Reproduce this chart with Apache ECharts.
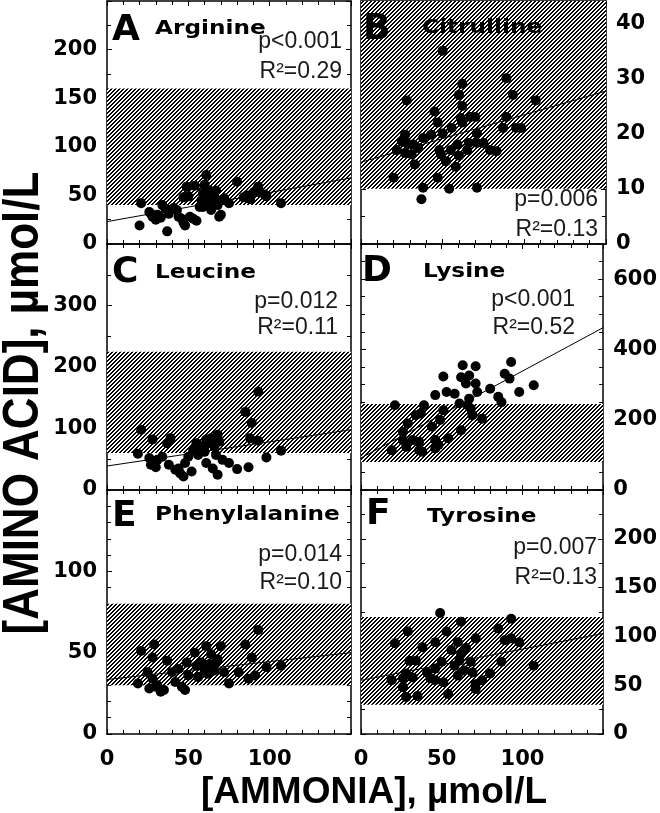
<!DOCTYPE html>
<html><head><meta charset="utf-8">
<script src="https://cdn.jsdelivr.net/npm/echarts@6/dist/echarts.min.js"></script>
<style>html,body{margin:0;padding:0;background:#fff}#c{width:660px;height:813px}</style>
</head><body><div id="c"></div>
<script>
// ---------------- data ----------------
const panelLetters = ['A','B','C','D','E','F'];
const panelNames = ['Arginine','Citrulline','Leucine','Lysine','Phenylalanine','Tyrosine'];
const pValues = ['p<0.001','p=0.006','p=0.012','p<0.001','p=0.014','p=0.007'];
const r2Values = ['R\u00B2=0.29','R\u00B2=0.13','R\u00B2=0.11','R\u00B2=0.52','R\u00B2=0.10','R\u00B2=0.13'];
const xTickLabels = [0,50,100];
const xMax = 150;
const yMaxes = [250,44,400,700,150,250];
const yLabelSteps = [50,10,100,200,50,50];
const yTickSteps = [25,5,50,50,10,25];
const refRanges = [[40,160],[10,44],[60,225],[80,245],[30,80],[30,120]];
const fitLines = [
  [[0,23],[150,68]],
  [[0,14.8],[150,27.7]],
  [[0,39],[150,98]],
  [[0,91],[150,462]],
  [[0,33.5],[150,50]],
  [[0,55],[150,103]]
];
const arginine = [[20,19],[21,42],[26,33],[27,31],[28,28],[30,25],[31,30],[33,27],[34,40],[36,36],[37,13],[38,31],[39,35],[41,37],[43,35],[44,28],[46,26],[47,22],[48,19],[47,48],[49,59],[50,49],[51,28],[53,26],[54,60],[55,24],[57,38],[58,45],[59,38],[59,52],[60,61],[61,71],[62,50],[62,42],[63,45],[63,55],[64,35],[65,52],[66,48],[67,55],[68,45],[68,40],[69,28],[70,30],[71,45],[72,47],[75,42],[80,64],[84,48],[86,50],[88,46],[90,53],[92,56],[93,59],[94,53],[97,51],[98,49],[107,42]];
const citrulline = [[20,12],[22,17],[25,18.6],[27,16.5],[27,19.8],[28,18.3],[28,26],[31,16.2],[32,18],[33,14.4],[35,17.4],[37,8.1],[38,10.2],[38,19.2],[43,19.8],[45,24],[47,22],[47,12],[48,17],[49,16.2],[50,35],[50,20],[52,15],[54,10],[55,17],[55.5,21],[58,14],[59,18],[60,16],[60,27],[61,22.8],[62,29],[62,25],[62,22],[65,17],[66,18.3],[67,23],[70,23],[71,20],[71,18.3],[71,10.2],[75,18.3],[79,17],[83,16.8],[87,21],[89,23],[89,30],[93,27],[95,21],[98,21],[107,26]];
const leucine = [[19,59],[21,98],[26,52],[27,41],[28,82],[30,37],[31,49],[34,54],[37,76],[38,41],[39,84],[42,33],[44,35],[45,27],[47,22],[48,44],[50,54],[52,30],[53,65],[55,76],[56,57],[58,71],[60,62],[61,82],[61,44],[62,76],[64,84],[65,35],[66,71],[67,57],[68,90],[68,25],[69,79],[71,49],[75,44],[80,34],[85,127],[87,37],[88,84],[89,109],[93,160],[93,80],[98,53],[107,64]];
const lysine = [[19,113],[21,241],[26,165],[26,142],[28,123],[29,189],[32,142],[34,213],[36,137],[36,113],[37,218],[38,109],[39,241],[44,180],[46,142],[46,118],[46,270],[48,128],[49,199],[51,227],[51,323],[53,279],[54,147],[58,274],[61,246],[62,170],[62,321],[63,355],[65,303],[66,241],[67,326],[67,260],[68,232],[69,213],[71,352],[71,303],[72,279],[75,203],[80,288],[85,265],[87,250],[89,331],[92,317],[93,364],[98,279],[107,298]];
const phenylalanine = [[19,31],[21,51],[25,38],[26,28],[28,34],[28,47],[29,55],[30,29],[31,30],[33,26],[35,27],[37,45],[40,38],[42,32],[44,40],[46,29],[48,27],[49,44],[50,36],[54,50],[55,42],[56,35],[58,44],[60,39],[61,54],[62,37],[63,43],[64,49],[65,40],[66,39],[67,44],[68,46],[70,54],[72,38],[75,31],[81,38],[85,55],[87,34],[89,47],[91,36],[93,64],[98,41],[107,42]];
const tyrosine = [[19,55],[21,93],[26,48],[26,57],[28,62],[28,38],[29,105],[30,75],[32,58],[34,75],[35,39],[38,89],[41,63],[43,57],[46,94],[46,67],[46,55],[49,124],[50,74],[51,53],[53,105],[54,41],[56,86],[58,70],[60,94],[60,60],[61,75],[62,82],[62,115],[64,65],[65,88],[68,74],[69,63],[71,98],[71,51],[71,46],[75,55],[80,62],[85,108],[87,74],[89,96],[93,98],[93,118],[98,94],[107,70]];
const panelPoints = [arginine,citrulline,leucine,lysine,phenylalanine,tyrosine];

// ---------------- layout ----------------
const grids = [
  {left:107, top:1,   width:244, height:243},
  {left:361, top:1,   width:245, height:243},
  {left:107, top:244, width:244, height:246},
  {left:361, top:244, width:245, height:246},
  {left:107, top:490, width:244, height:244},
  {left:361, top:490, width:245, height:244}
];
const letterPos = [[112,31],[363,30],[112,273],[362,272],[112,517],[366,515]];
const namePos = [[155,29],[422,28],[155,273],[423,272],[155,515],[427,517]];
const pPos = [[342,42,72],[598,200,230],[338,302,328],[575,300,328],[342,555,583],[597,548,578]];

function hatch(){
  const c=document.createElement('canvas'); c.width=4; c.height=4;
  const g=c.getContext('2d');
  g.fillStyle='#fff'; g.fillRect(0,0,4,4);
  g.fillStyle='#000';
  for(let i=0;i<4;i++){ g.fillRect((3-i+4)%4,i,1,1); g.fillRect((4-i+4)%4,i,1,1); }
  return c;
}
const pat = {image: hatch(), repeat:'repeat'};

const lblFont = {fontFamily:'DejaVu Sans', fontWeight:'bold', fontSize:21, color:'#000'};
const tickStyle = {color:'#000', width:1};
const xAxes=[], yAxes=[], series=[], graphic=[];
grids.forEach((g,i)=>{
  const rightCol = i%2===1;
  const bottomRow = i>=4;
  const common = {
    axisLine:{show:true, onZero:false, lineStyle:{color:'#000', width:1.5}},
    splitLine:{show:false}
  };
  xAxes.push(Object.assign({}, common, {
    type:'value', gridIndex:i, min:0, max:xMax, interval:50, position:'bottom',
    axisTick:{show:true, inside:true, length:5, lineStyle:tickStyle},
    minorTick:{show:true, splitNumber:5, length:4, lineStyle:tickStyle},
    axisLabel:Object.assign({show:bottomRow, margin:15, showMaxLabel:false,
      formatter:v=> xTickLabels.indexOf(v)>=0 ? String(v) : ''}, lblFont)
  }));
  xAxes.push(Object.assign({}, common, {
    type:'value', gridIndex:i, min:0, max:xMax, interval:50, position:'top',
    axisTick:{show:true, inside:true, length:5, lineStyle:tickStyle},
    minorTick:{show:true, splitNumber:5, length:4, lineStyle:tickStyle},
    axisLabel:{show:false}
  }));
  const ySplit = yLabelSteps[i]/yTickSteps[i];
  yAxes.push(Object.assign({}, common, {
    type:'value', gridIndex:i, min:0, max:yMaxes[i], interval:yLabelSteps[i],
    position: rightCol ? 'right' : 'left',
    axisTick:{show:true, inside:true, length:5, lineStyle:tickStyle},
    minorTick:{show:true, splitNumber:ySplit, length:4, lineStyle:tickStyle},
    axisLabel:Object.assign({show:true, margin:10, showMaxLabel:false}, lblFont)
  }));
  yAxes.push(Object.assign({}, common, {
    type:'value', gridIndex:i, min:0, max:yMaxes[i], interval:yLabelSteps[i],
    position: rightCol ? 'left' : 'right',
    axisTick:{show:true, inside:true, length:5, lineStyle:tickStyle},
    minorTick:{show:true, splitNumber:ySplit, length:4, lineStyle:tickStyle},
    axisLabel:{show:false}
  }));
  const xi = i*2, yi = i*2;
  series.push({
    type:'line', xAxisIndex:xi, yAxisIndex:yi, data:[], z:1, silent:true,
    markArea:{silent:true, itemStyle:{color:pat, opacity:1},
      data:[[{yAxis:refRanges[i][0]},{yAxis:refRanges[i][1]}]]}
  });
  series.push({
    type:'line', xAxisIndex:xi, yAxisIndex:yi, data:fitLines[i], z:2, silent:true,
    symbol:'none', lineStyle:{color:'#000', width:1}
  });
  series.push({
    type:'scatter', xAxisIndex:xi, yAxisIndex:yi, data:panelPoints[i], z:3,
    symbol:'circle', symbolSize:10, itemStyle:{color:'#000', opacity:1}
  });
  graphic.push({type:'text', x:letterPos[i][0], y:letterPos[i][1], z:10,
    style:{text:panelLetters[i], fill:'#000', font:'bold 36px "DejaVu Sans"', textAlign:'left', textVerticalAlign:'middle'}});
  graphic.push({type:'text', x:namePos[i][0], y:namePos[i][1], z:10, scaleX:1.16,
    style:{text:panelNames[i], fill:'#000', font:'bold 20px "DejaVu Sans"', textAlign:'left', textVerticalAlign:'middle'}});
  graphic.push({type:'text', x:pPos[i][0], y:pPos[i][1], z:10,
    style:{text:pValues[i], fill:'#1a1a1a', font:'23px "Liberation Sans"', textAlign:'right', textVerticalAlign:'middle'}});
  graphic.push({type:'text', x:pPos[i][0], y:pPos[i][2], z:10,
    style:{text:r2Values[i], fill:'#1a1a1a', font:'23px "Liberation Sans"', textAlign:'right', textVerticalAlign:'middle'}});
});
graphic.push({type:'text', x:374, y:793, z:10,
  style:{text:'[AMMONIA], \u00B5mol/L', fill:'#000', font:'bold 37px "Liberation Sans"', textAlign:'center', textVerticalAlign:'middle'}});
graphic.push({type:'text', x:24, y:403, rotation:Math.PI/2, z:10, scaleY:1.12,
  style:{text:'[AMINO ACID], \u00B5mol/L', fill:'#000', font:'bold 44px "Liberation Sans"', textAlign:'center', textVerticalAlign:'middle'}});

const chart = echarts.init(document.getElementById('c'), null, {renderer:'canvas'});
chart.setOption({
  animation:false,
  backgroundColor:'#fff',
  grid: grids.map(g=>Object.assign({containLabel:false}, g)),
  xAxis:xAxes, yAxis:yAxes, series:series, graphic:graphic
});
</script></body></html>
